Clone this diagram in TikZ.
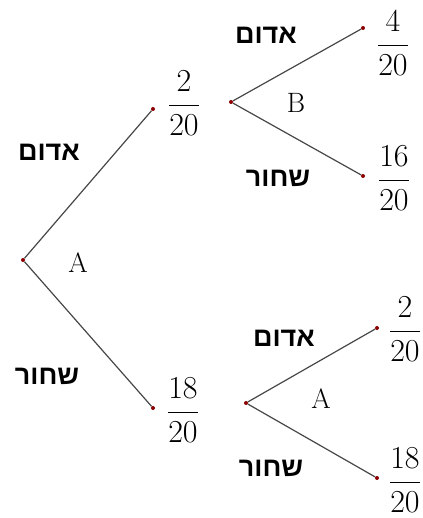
\RequirePackage{fix-cm}
\documentclass[tikz,border=0pt]{standalone}
\usepackage{amsmath}
\usepackage{fontspec}
\newfontfamily\hebfont[Script=Hebrew]{Liberation Sans}
\TeXXeTstate=1
\usetikzlibrary{positioning}

\begin{document}
\begin{tikzpicture}[x=1pt, y=-1pt,
    dot/.style={circle, fill=red!55!black, inner sep=0pt, minimum size=4pt},
    br/.style={draw=black!72, line width=1.2pt},
    frac/.style={font=\fontsize{32}{36}\selectfont, inner sep=0pt},
    heb/.style={font=\hebfont\bfseries\fontsize{27}{31}\selectfont, inner sep=0pt},
    ev/.style={font=\fontsize{28}{32}\selectfont, inner sep=0pt}]
    \useasboundingbox (0,0) rectangle (422,518);
    \node[dot] (r) at (23,260) {};
    \node[dot] (a) at (153,109) {};
    \node[dot] (b) at (153,408) {};
    \node[dot] (c) at (231,102) {};
    \node[dot] (c1) at (363,28) {};
    \node[dot] (c2) at (363,176) {};
    \node[dot] (d) at (246,403) {};
    \node[dot] (d1) at (377,328) {};
    \node[dot] (d2) at (377,478) {};
    \node[frac] (fa) at (184,103) {$\dfrac{2}{20}$};
    \node[frac] (fb) at (183,410) {$\dfrac{18}{20}$};
    \node[frac] (fc1) at (393,43) {$\dfrac{4}{20}$};
    \node[frac] (fc2) at (394,178) {$\dfrac{16}{20}$};
    \node[frac] (fd1) at (405,329) {$\dfrac{2}{20}$};
    \node[frac] (fd2) at (405,480) {$\dfrac{18}{20}$};
    \node[heb] (ra) at (49,152) {\beginR אדום\endR};
    \node[heb] (rb) at (47,376) {\beginR שחור\endR};
    \node[heb] (ca) at (266,35) {\beginR אדום\endR};
    \node[heb] (cb) at (278,178) {\beginR שחור\endR};
    \node[heb] (da) at (284,338) {\beginR אדום\endR};
    \node[heb] (db) at (271,468) {\beginR שחור\endR};
    \node[ev] (evr) at (78,263) {A};
    \node[ev] (evc) at (296,103) {B};
    \node[ev] (evd) at (321,399) {A};
    \draw[br] (r) -- (a);
    \draw[br] (r) -- (b);
    \draw[br] (c) -- (c1);
    \draw[br] (c) -- (c2);
    \draw[br] (d) -- (d1);
    \draw[br] (d) -- (d2);
  \end{tikzpicture}
\end{document}
